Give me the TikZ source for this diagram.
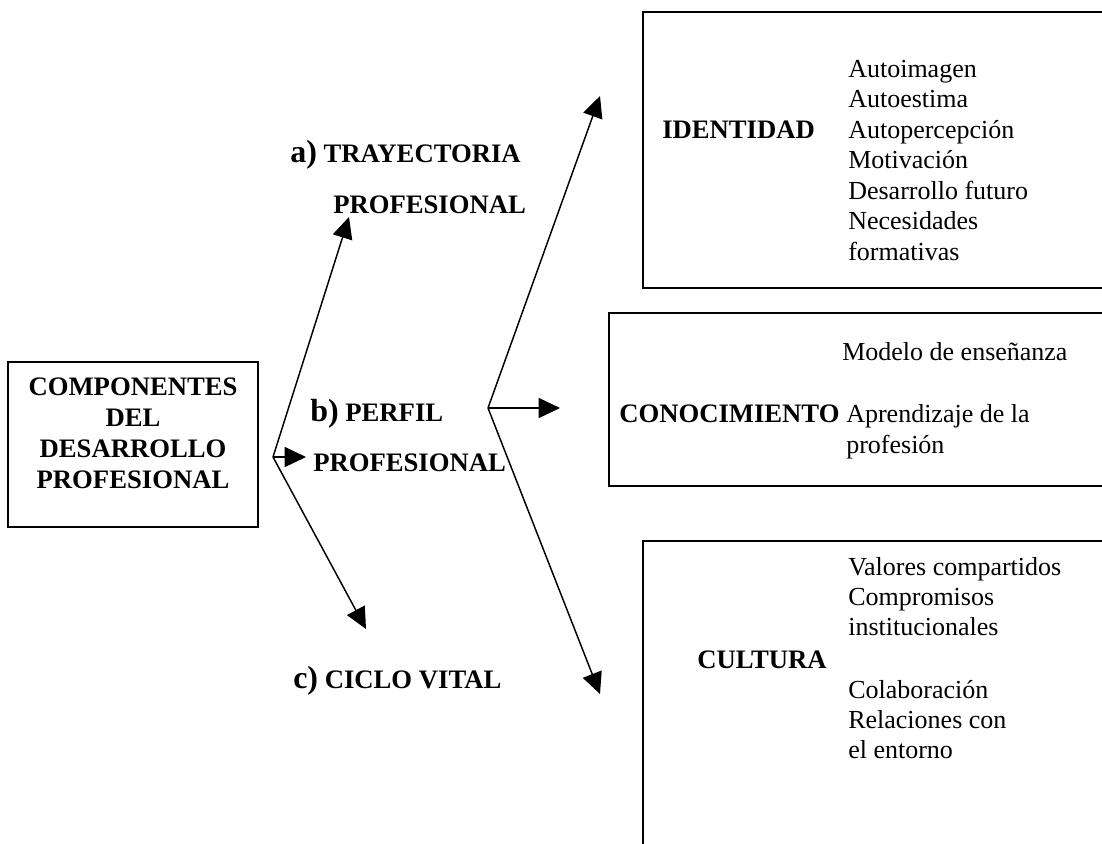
\documentclass[tikz,border=0pt]{standalone}
\usepackage{fontspec}
\setmainfont{Liberation Serif}
\usetikzlibrary{arrows.meta}
\newcommand*{\itemSize}{\fontsize{19.5}{23}\selectfont}
\newcommand*{\headSize}{\fontsize{20}{24}\selectfont}
\newcommand*{\tagSize}{\fontsize{24}{28}\selectfont}
\tikzset{
  box/.style={draw, line width=1.3pt},
  link/.style={line width=1.1pt, -{Triangle[length=16pt,width=15pt]}},
  txt/.style={inner sep=0pt, anchor=base west, font=\itemSize},
  head/.style={txt, font=\headSize\bfseries},
}
\begin{document}
\begin{tikzpicture}[x=0.75pt,y=-0.75pt]
    \useasboundingbox (0,0) rectangle (1102,843);
    \clip (0,0) rectangle (1102,843);
    % boxes
    \draw [box] (8,362) rectangle (258,527);
    \draw [box] (643,12) rectangle (1120,288);
    \draw [box] (609,313) rectangle (1120,486);
    \draw [box] (643,541) rectangle (1120,860);
    % main box
    \foreach \t [count=\i] in {COMPONENTES,DEL,DESARROLLO,PROFESIONAL} {
        \node [head, anchor=base] (main\i) at (133,{395+31*(\i-1)}) {\t};
    }
    % branches
    \node [head] (trayA) at (290,162) {{\tagSize a)} TRAYECTORIA};
    \node [head] (trayB) at (333,213) {PROFESIONAL};
    \node [head] (perfA) at (310,421) {{\tagSize b)} PERFIL};
    \node [head] (perfB) at (313,471) {PROFESIONAL};
    \node [head] (ciclo) at (293,688) {{\tagSize c)} CICLO VITAL};
    \coordinate (forkA) at (273,457);
    \coordinate (tipTray) at (349,217);
    \coordinate (tipPerf) at (306,457);
    \coordinate (tipCiclo) at (366,629);
    \draw [link] (forkA) -- (tipTray);
    \draw [link] (forkA) -- (tipPerf);
    \draw [link] (forkA) -- (tipCiclo);
    \coordinate (forkB) at (488,408);
    \coordinate (tipIdent) at (600,96);
    \coordinate (tipConoc) at (560,408);
    \coordinate (tipCult) at (600,694);
    \draw [link] (forkB) -- (tipIdent);
    \draw [link] (forkB) -- (tipConoc);
    \draw [link] (forkB) -- (tipCult);
    % identidad
    \node [head] (ident) at (662,138) {IDENTIDAD};
    \foreach \t [count=\i] in {Autoimagen,Autoestima,Autopercepción,Motivación,Desarrollo futuro,Necesidades,formativas} {
        \node [txt] (identItem\i) at (848,{77+30.5*(\i-1)}) {\t};
    }
    % conocimiento
    \node [head] (conoc) at (619,422) {CONOCIMIENTO};
    \node [txt] (conocA) at (842,360) {Modelo de enseñanza};
    \node [txt] (conocB) at (846,422) {Aprendizaje de la};
    \node [txt] (conocC) at (846,453) {profesión};
    % cultura
    \node [head] (cult) at (697,668) {CULTURA};
    \foreach \y/\t [count=\i] in {575/Valores compartidos,605/Compromisos,635/institucionales,698/Colaboración,728/Relaciones con,758/el entorno} {
        \node [txt] (cultItem\i) at (848,\y) {\t};
    }
\end{tikzpicture}
\end{document}
